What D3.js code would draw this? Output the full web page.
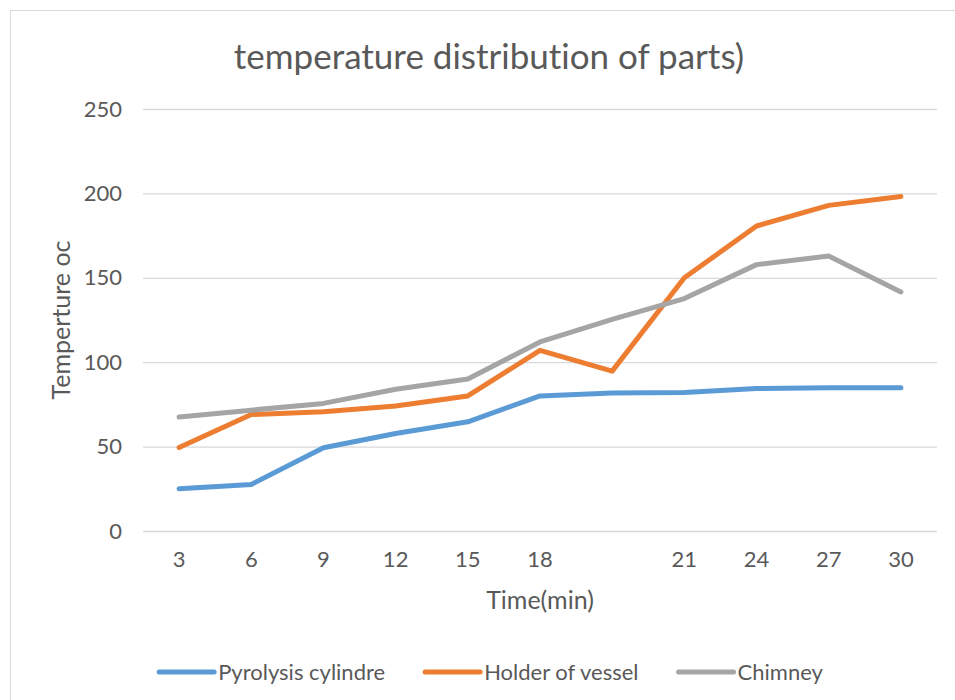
<!DOCTYPE html>
<html>
<head>
<meta charset="utf-8">
<script src="https://cdn.jsdelivr.net/npm/d3@7"></script>
<style>
  body { margin: 0; background: #fff; }
  svg { display: block; font-family: Lato, "Open Sans", sans-serif; font-variant-ligatures: none; }
</style>
</head>
<body>
<svg id="chart" width="955" height="700"></svg>
<script>
// categories on the x axis (one slot has no label)
const times = ["3", "6", "9", "12", "15", "18", "", "21", "24", "27", "30"];
const pyrolysis = [25, 27.6, 49.3, 57.8, 64.7, 80, 81.8, 82.1, 84.4, 84.8, 84.8];
const holder = [49.5, 69, 70.6, 74, 80, 107, 94.7, 150, 180.7, 192.9, 198.2];
const chimney = [67.5, 71.6, 75.6, 84, 90, 112, 125.4, 137.7, 157.8, 162.9, 141.6];
const yTicks = [0, 50, 100, 150, 200, 250];

const series = [
  {name: "Pyrolysis cylindre", values: pyrolysis, color: "#5B9BD5"},
  {name: "Holder of vessel", values: holder, color: "#ED7D31"},
  {name: "Chimney", values: chimney, color: "#A5A5A5"}
];

const textColor = "#595959";
const svg = d3.select("#chart");

// outer frame of the chart area
svg.append("rect")
  .attr("x", 10.5).attr("y", 10.5)
  .attr("width", 960).attr("height", 700)
  .attr("fill", "#fff")
  .attr("stroke", "#D9D9D9");

const plot = {left: 143, right: 937, top: 109, bottom: 531};

const x = d3.scaleBand()
  .domain(d3.range(times.length))
  .range([plot.left, plot.right]);
const y = d3.scaleLinear()
  .domain([0, 250])
  .range([plot.bottom, plot.top]);

// gridlines + y labels
const yAxis = svg.append("g")
  .attr("transform", `translate(${plot.left},0)`)
  .call(d3.axisLeft(y).tickValues(yTicks)
    .tickSize(-(plot.right - plot.left)).tickPadding(21));
yAxis.select(".domain").remove();
yAxis.selectAll(".tick line").attr("stroke", "#D9D9D9").attr("stroke-width", 1.3);
yAxis.selectAll(".tick text")
  .attr("fill", textColor)
  .style("font-size", "22px")
  .style("font-family", "Lato, sans-serif");

// x labels
const xAxis = svg.append("g")
  .attr("transform", `translate(0,${plot.bottom})`)
  .call(d3.axisBottom(x).tickFormat(i => times[i]).tickSize(0).tickPadding(20));
xAxis.select(".domain").remove();
xAxis.selectAll(".tick text")
  .attr("fill", textColor)
  .style("font-size", "22px")
  .style("font-family", "Lato, sans-serif");

// lines
const line = d3.line()
  .x((d, i) => x(i) + x.bandwidth() / 2)
  .y(d => y(d));

svg.append("g")
  .selectAll("path")
  .data(series)
  .enter().append("path")
    .attr("d", d => line(d.values))
    .attr("fill", "none")
    .attr("stroke", d => d.color)
    .attr("stroke-width", 5)
    .attr("stroke-linejoin", "round")
    .attr("stroke-linecap", "round");

// titles
svg.append("text")
  .attr("x", 489).attr("y", 69)
  .attr("text-anchor", "middle")
  .attr("fill", textColor)
  .style("font-size", "35px")
  .text("temperature distribution of parts)");

svg.append("text")
  .attr("x", (plot.left + plot.right) / 2).attr("y", 609)
  .attr("text-anchor", "middle")
  .attr("fill", textColor)
  .style("font-size", "25px")
  .text("Time(min)");

svg.append("text")
  .attr("transform", `translate(70,${(plot.top + plot.bottom) / 2}) rotate(-90)`)
  .attr("text-anchor", "middle")
  .attr("fill", textColor)
  .style("font-size", "25px")
  .text("Temperture oc");

// legend
const legend = svg.append("g");
const item = legend.selectAll("g")
  .data(series)
  .enter().append("g");
item.append("line")
  .attr("x1", 0).attr("x2", 55)
  .attr("y1", 0).attr("y2", 0)
  .attr("stroke", d => d.color)
  .attr("stroke-width", 5)
  .attr("stroke-linecap", "round");
item.append("text")
  .attr("x", 59).attr("y", 8)
  .attr("fill", textColor)
  .style("font-size", "22px")
  .text(d => d.name);

let offset = 0;
item.each(function() {
  const w = 59 + d3.select(this).select("text").node().getComputedTextLength();
  d3.select(this).attr("transform", `translate(${offset},0)`);
  offset += w + 40;
});
const legendWidth = offset - 40;
legend.attr("transform", `translate(${491 - legendWidth / 2},672)`);
</script>
</body>
</html>
